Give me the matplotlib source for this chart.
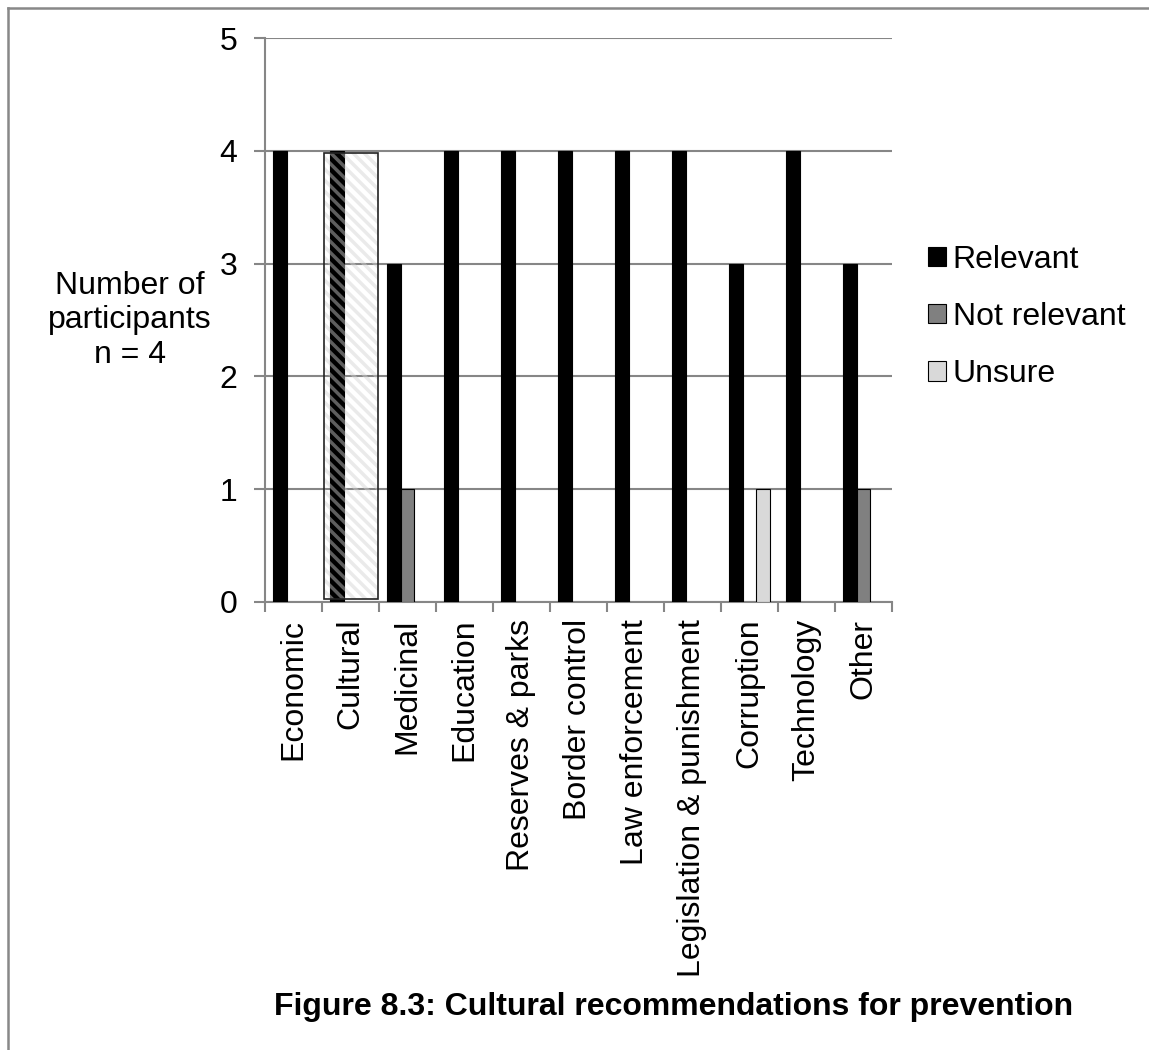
import matplotlib
matplotlib.use("Agg")
import matplotlib.pyplot as plt
from matplotlib.patches import Rectangle
from matplotlib.lines import Line2D
import numpy as np

plt.rcParams['font.family'] = ['Liberation Sans', 'DejaVu Sans']

categories = ["Economic", "Cultural", "Medicinal", "Education", "Reserves & parks",
              "Border control", "Law enforcement", "Legislation & punishment",
              "Corruption", "Technology", "Other"]
relevant = [4, 4, 3, 4, 4, 4, 4, 4, 3, 4, 3]
not_relevant = [0, 0, 1, 0, 0, 0, 0, 0, 0, 0, 1]
unsure = [0, 0, 0, 0, 0, 0, 0, 0, 1, 0, 0]

series = [
    ("Relevant", relevant, "#000000"),
    ("Not relevant", not_relevant, "#808080"),
    ("Unsure", unsure, "#d9d9d9"),
]

FS = 23

fig = plt.figure(figsize=(11.49, 10.5), dpi=100)
ax = fig.add_axes([0.2306, 0.4267, 0.5457, 0.5371])

x = np.arange(len(categories))
bw = 0.24
offsets = [-bw, 0, bw]
handles = []
for (name, vals, col), off in zip(series, offsets):
    vals = np.asarray(vals, dtype=float)
    keep = vals > 0
    ax.bar(x[keep] + off, vals[keep], width=bw, color=col,
           edgecolor="black", linewidth=0.8, zorder=3)
    handles.append(Rectangle((0, 0), 1, 1, facecolor=col, edgecolor="black", linewidth=0.8))

# highlight box around the Cultural group
plt.rcParams['hatch.linewidth'] = 2.5
ax.add_patch(Rectangle((0.535, 0.03), 0.945, 3.95, facecolor=(1, 1, 1, 0.0),
                       edgecolor=(0.82, 0.82, 0.82, 0.45), hatch='\\\\\\', linewidth=0, zorder=4))
ax.add_patch(Rectangle((0.535, 0.03), 0.945, 3.95, facecolor="none",
                       edgecolor="#222222", linewidth=1.2, zorder=5))

ax.set_xlim(-0.5, len(categories) - 0.5)
ax.set_ylim(0, 5)
ax.set_yticks(range(0, 6))
ax.yaxis.grid(True, color="#868686", linewidth=1.5, zorder=0)
ax.set_axisbelow(True)
for s in ["top", "right"]:
    ax.spines[s].set_visible(False)
for s in ["left", "bottom"]:
    ax.spines[s].set_color("#868686")
    ax.spines[s].set_linewidth(1.5)

ax.set_xticks(np.arange(-0.5, len(categories) + 0.5, 1))
ax.set_xticklabels([])
ax.set_xticks(x, minor=True)
ax.set_xticklabels(categories, minor=True, rotation=90, fontsize=FS)
ax.tick_params(axis="x", which="major", length=7, width=1.5, color="#868686", direction="out")
ax.tick_params(axis="x", which="minor", length=0, pad=12)
ax.tick_params(axis="y", length=8, width=1.5, color="#868686", labelsize=FS, pad=12)

fig.text(0.113, 0.695, "Number of\nparticipants\nn = 4", ha="center", va="center",
         fontsize=FS, linespacing=1.2)

leg = fig.legend(handles, [s[0] for s in series], loc="center left",
                 bbox_to_anchor=(0.8077, 0.698), frameon=False, fontsize=FS,
                 borderpad=0, borderaxespad=0,
                 handlelength=0.55, handleheight=0.55, handletextpad=0.22, labelspacing=0.85)

fig.text(0.5866, 0.041, "Figure 8.3: Cultural recommendations for prevention",
         ha="center", va="center", fontsize=FS, fontweight="bold")

# page frame
fig.add_artist(Line2D([0.007, 0.007], [0.0, 0.992], color="#888888", linewidth=1.8,
                      transform=fig.transFigure))
fig.add_artist(Line2D([0.007, 1.0], [0.992, 0.992], color="#888888", linewidth=1.8,
                      transform=fig.transFigure))

fig.savefig("out.png", dpi=100, facecolor="white")
